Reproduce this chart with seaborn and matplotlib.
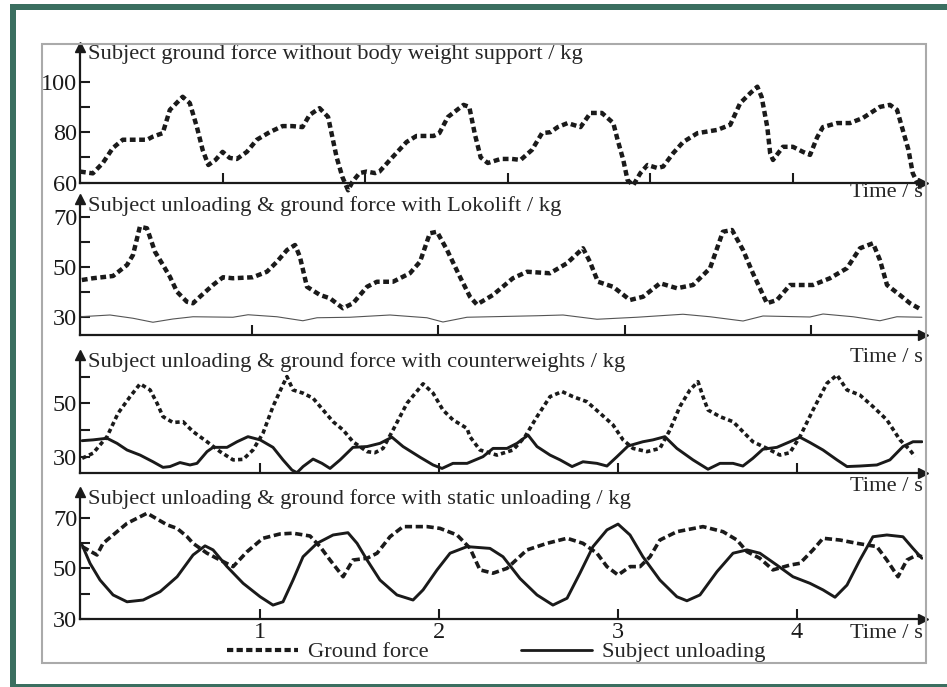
import matplotlib
matplotlib.use('Agg')
import matplotlib.pyplot as plt
import seaborn as sns
from matplotlib.lines import Line2D
from matplotlib.patches import Rectangle

# panel 1: ground force without body weight support
t1 = [0.00, 0.09, 0.16, 0.23, 0.30, 0.37, 0.47, 0.51, 0.58, 0.63, 0.72, 0.77, 0.82, 0.86, 0.90,
      0.95, 1.00, 1.05, 1.10, 1.17, 1.24, 1.33, 1.42, 1.49, 1.56, 1.61, 1.68, 1.74, 1.77, 1.80,
      1.84, 1.88, 1.91, 1.96, 2.01, 2.07, 2.10, 2.19, 2.29, 2.36, 2.48, 2.52, 2.58, 2.69, 2.73,
      2.77, 2.81, 2.86, 2.95, 3.03, 3.09, 3.17, 3.24, 3.30, 3.35, 3.42, 3.51, 3.58, 3.66, 3.74,
      3.77, 3.81, 3.84, 3.88, 3.93, 3.98, 4.05, 4.09, 4.16, 4.23, 4.33, 4.47, 4.56, 4.63, 4.70,
      4.75, 4.78, 4.82, 4.84, 4.86, 4.93, 5.00, 5.07, 5.12, 5.17, 5.21, 5.31, 5.40, 5.49, 5.61,
      5.68, 5.73, 5.77, 5.81, 5.84, 5.88]
gf1 = [64.4, 63.7, 67.8, 73.7, 77.0, 77.0, 77.0, 78.2, 79.6, 88.8, 94.0, 91.5, 82.0, 73.0, 67.0,
       69.0, 72.2, 69.8, 69.4, 72.2, 77.0, 80.0, 82.4, 82.4, 82.0, 86.8, 89.5, 86.0, 78.0, 70.0,
       62.3, 57.0, 60.3, 63.8, 64.4, 63.8, 64.4, 70.0, 76.1, 78.5, 78.5, 79.6, 86.0, 90.8, 90.0,
       79.0, 70.0, 67.8, 69.4, 69.4, 69.0, 73.0, 79.6, 80.0, 82.0, 83.6, 82.0, 87.6, 87.6, 83.6,
       77.0, 69.0, 61.0, 59.0, 63.8, 67.0, 65.8, 66.4, 71.7, 76.1, 79.6, 80.9, 82.9, 91.5, 95.4,
       98.0, 94.0, 82.0, 71.7, 69.0, 74.2, 74.2, 72.2, 71.0, 78.0, 82.0, 83.6, 83.6, 85.6, 90.0,
       90.8, 88.8, 80.9, 73.0, 63.8, 59.0]

# panel 2: Lokolift
t2 = [0.088, 0.147, 0.255, 0.330, 0.362, 0.399, 0.437, 0.480, 0.523, 0.560, 0.598, 0.651, 0.684,
      0.721, 0.791, 0.845, 0.898, 1.005, 1.080, 1.134, 1.188, 1.231, 1.257, 1.295, 1.365, 1.418,
      1.488, 1.542, 1.617, 1.670, 1.756, 1.847, 1.901, 1.954, 1.992, 2.046, 2.115, 2.169, 2.206,
      2.292, 2.399, 2.475, 2.598, 2.689, 2.775, 2.812, 2.855, 2.936, 3.027, 3.097, 3.188, 3.279,
      3.365, 3.456, 3.525, 3.574, 3.633, 3.686, 3.761, 3.815, 3.885, 3.954, 4.008, 4.099, 4.190,
      4.260, 4.330, 4.367, 4.405, 4.474, 4.528, 4.592]
gf2 = [44.8, 45.5, 46.4, 50.8, 54.8, 66.1, 65.5, 56.1, 50.8, 46.1, 40.1, 36.1, 35.5,
       38.1, 42.8, 45.9, 45.5, 45.9, 48.1, 52.1, 56.8, 58.8, 54.1, 42.1, 38.8, 37.5,
       33.5, 35.5, 42.1, 44.1, 44.1, 47.5, 52.1, 63.5, 64.1, 56.8, 46.1, 38.1, 35.0,
       38.8, 45.5, 48.1, 47.5, 51.5, 57.5, 52.1, 44.1, 42.1, 36.8, 38.1, 43.5, 41.5,
       42.8, 49.5, 64.1, 64.8, 56.8, 47.5, 35.5, 36.8, 42.8, 42.8, 42.8, 45.5, 49.5,
       57.5, 59.5, 52.8, 42.8, 38.8, 35.5, 32.8]
tu2 = [0.078, 0.239, 0.362, 0.469, 0.576, 0.684, 0.898, 0.979, 1.134, 1.273, 1.349, 1.525, 1.740,
       1.938, 2.024, 2.153, 2.528, 2.668, 2.850, 3.064, 3.311, 3.456, 3.633, 3.740, 3.992, 4.062,
       4.223, 4.367, 4.458, 4.592]
unl2 = [30.1, 30.8, 29.5, 27.9, 29.2, 30.1, 29.9, 30.9, 30.1, 28.5, 29.7, 29.9, 30.8,
        29.7, 28.0, 29.9, 30.5, 30.8, 29.1, 29.9, 31.1, 30.1, 28.4, 30.4, 30.0, 31.2,
        30.1, 28.5, 30.1, 29.9]

# panel 3: counterweights
t3 = [0.006, 0.067, 0.145, 0.207, 0.274, 0.330, 0.386, 0.425, 0.458, 0.514, 0.570, 0.626, 0.704,
      0.777, 0.850, 0.906, 0.961, 1.017, 1.073, 1.124, 1.151, 1.185, 1.241, 1.297, 1.353, 1.409,
      1.465, 1.520, 1.599, 1.643, 1.688, 1.744, 1.822, 1.912, 1.968, 2.023, 2.079, 2.158, 2.174,
      2.230, 2.325, 2.415, 2.482, 2.549, 2.622, 2.689, 2.750, 2.828, 2.901, 2.974, 3.030, 3.086,
      3.164, 3.236, 3.292, 3.348, 3.404, 3.449, 3.477, 3.505, 3.572, 3.645, 3.700, 3.756, 3.835,
      3.907, 3.963, 4.019, 4.092, 4.170, 4.226, 4.282, 4.354, 4.427, 4.505, 4.578, 4.634, 4.662]
gf3 = [29.4, 31.3, 37.5, 46.3, 52.5, 57.3, 55.0, 50.0, 45.0, 42.8, 43.1, 39.4, 35.6,
       31.9, 28.8, 29.0, 32.5, 38.8, 48.8, 56.3, 60.0, 55.0, 53.8, 51.9, 47.5, 43.1,
       40.0, 35.6, 31.9, 31.5, 33.1, 40.0, 50.0, 57.3, 53.8, 47.5, 43.8, 40.6, 37.5,
       32.5, 30.6, 32.5, 37.5, 45.0, 52.5, 54.4, 52.5, 50.6, 46.3, 41.9, 36.3, 33.1,
       31.9, 33.1, 40.0, 48.8, 55.0, 58.1, 52.5, 47.5, 45.0, 43.1, 39.4, 35.6, 33.1,
       30.6, 31.5, 37.5, 47.5, 57.5, 60.6, 55.0, 53.1, 48.8, 43.8, 36.3, 32.5, 30.0]
tu3 = [0.006, 0.067, 0.145, 0.201, 0.257, 0.330, 0.402, 0.458, 0.497, 0.553, 0.609, 0.648, 0.704,
       0.738, 0.816, 0.872, 0.933, 1.001, 1.073, 1.129, 1.179, 1.207, 1.241, 1.297, 1.347, 1.392,
       1.448, 1.520, 1.599, 1.671, 1.738, 1.800, 1.895, 1.968, 2.018, 2.079, 2.158, 2.247, 2.303,
       2.381, 2.437, 2.499, 2.549, 2.622, 2.678, 2.745, 2.806, 2.884, 2.940, 2.996, 3.058, 3.141,
       3.197, 3.264, 3.331, 3.421, 3.505, 3.572, 3.645, 3.700, 3.756, 3.812, 3.890, 3.963, 4.019,
       4.075, 4.148, 4.226, 4.282, 4.354, 4.449, 4.522, 4.595, 4.651, 4.701]
unl3 = [36.0, 36.3, 36.9, 35.0, 32.5, 30.6, 28.1, 26.0, 26.3, 27.8, 26.9, 27.5, 31.9,
        33.5, 33.5, 35.6, 37.5, 36.3, 33.5, 28.8, 25.0, 24.0, 26.3, 29.1, 27.5, 25.6,
        28.8, 33.5, 33.8, 35.0, 37.3, 33.8, 29.8, 26.9, 25.6, 27.5, 27.5, 30.0, 33.1,
        33.1, 35.0, 38.1, 33.8, 30.6, 28.8, 26.3, 28.1, 27.5, 26.5, 30.0, 34.0, 35.6,
        36.3, 37.5, 33.1, 28.8, 25.3, 27.5, 27.5, 26.5, 29.4, 32.8, 33.5, 35.6, 37.3,
        35.3, 32.5, 28.8, 26.3, 26.5, 26.9, 28.8, 33.8, 35.6, 35.6]

# panel 4: static unloading
t4 = [0.006, 0.089, 0.123, 0.257, 0.369, 0.481, 0.537, 0.593, 0.626, 0.704, 0.777, 0.850, 0.928,
      1.017, 1.112, 1.185, 1.280, 1.336, 1.392, 1.465, 1.520, 1.599, 1.655, 1.727, 1.800, 1.934,
      2.007, 2.102, 2.174, 2.230, 2.303, 2.381, 2.493, 2.605, 2.717, 2.806, 2.884, 2.940, 3.002,
      3.069, 3.125, 3.181, 3.236, 3.331, 3.477, 3.589, 3.667, 3.723, 3.795, 3.868, 3.963, 4.019,
      4.092, 4.148, 4.243, 4.338, 4.449, 4.505, 4.567, 4.617, 4.673, 4.701]
gf4 = [58.6, 55.3, 59.9, 67.8, 71.8, 67.2, 65.8, 62.5, 59.9, 56.0, 53.3, 50.7, 56.6,
       61.9, 63.6, 63.9, 62.8, 58.6, 53.3, 46.7, 53.3, 54.0, 56.0, 62.5, 66.5, 66.5,
       65.8, 63.2, 58.0, 49.4, 48.1, 50.0, 57.3, 59.9, 61.9, 59.9, 56.0, 50.7, 47.4,
       50.7, 50.7, 54.6, 61.2, 64.5, 66.5, 64.5, 61.2, 56.6, 54.0, 49.4, 51.3, 52.0,
       57.3, 61.9, 61.2, 59.9, 58.6, 53.3, 46.7, 53.3, 55.3, 54.6]
tu4 = [0.006, 0.050, 0.106, 0.179, 0.257, 0.347, 0.442, 0.537, 0.626, 0.693, 0.738, 0.816, 0.906,
       1.001, 1.073, 1.129, 1.185, 1.241, 1.319, 1.409, 1.492, 1.543, 1.599, 1.671, 1.766, 1.856,
       1.912, 1.990, 2.063, 2.158, 2.286, 2.359, 2.454, 2.549, 2.638, 2.717, 2.789, 2.862, 2.940,
       3.002, 3.069, 3.141, 3.236, 3.331, 3.387, 3.460, 3.555, 3.645, 3.723, 3.795, 3.890, 3.980,
       4.075, 4.148, 4.215, 4.282, 4.354, 4.427, 4.505, 4.595, 4.651, 4.701]
unl4 = [59.2, 52.0, 45.4, 39.5, 36.8, 37.5, 40.8, 46.7, 55.3, 58.9, 57.3, 50.7, 44.1,
        38.8, 35.5, 36.8, 45.4, 54.6, 59.9, 63.2, 64.1, 59.9, 53.3, 45.4, 39.5, 37.5,
        41.5, 49.4, 56.0, 58.6, 57.9, 54.6, 46.0, 39.5, 35.5, 38.2, 48.1, 58.6, 65.2,
        67.5, 63.2, 54.6, 45.4, 38.8, 37.2, 39.5, 48.7, 56.0, 57.3, 56.0, 51.3, 46.7,
        44.1, 41.5, 38.6, 43.4, 53.3, 62.5, 63.2, 62.5, 57.9, 54.0]

titles = ['Subject ground force without body weight support / kg',
          'Subject unloading & ground force with Lokolift / kg',
          'Subject unloading & ground force with counterweights / kg',
          'Subject unloading & ground force with static unloading / kg']

sns.set_theme(style='ticks')
plt.rcParams['font.family'] = ['Liberation Serif', 'DejaVu Serif']

W, H = 947, 687
fig = plt.figure(figsize=(W / 100, H / 100), dpi=100)
fig.patch.set_facecolor('white')


def box(x0, y0, x1, y1):
    # pixel box (top-left origin) -> figure fraction rect
    return [x0 / W, 1 - y1 / H, (x1 - x0) / W, (y1 - y0) / H]


# outer teal frame and inner grey frame
teal = '#3b6f60'
for r in [box(10, 4, 16, 687), box(10, 4, W, 10), box(10, 684, W, 687)]:
    fig.add_artist(Rectangle((r[0], r[1]), r[2], r[3], transform=fig.transFigure,
                             facecolor=teal, edgecolor='none'))
g = box(42, 44, 926, 663)
fig.add_artist(Rectangle((g[0], g[1]), g[2], g[3], transform=fig.transFigure,
                         facecolor='none', edgecolor='#aaaaaa', lw=1.5))

panels = [(47, 182.7), (199, 335), (355, 472.7), (491.7, 619)]
axes = [fig.add_axes(box(80, top, 923, bot)) for top, bot in panels]
ax1, ax2, ax3, ax4 = axes

dots = (0, (1.3, 0.8))
sns.lineplot(x=t1, y=gf1, ax=ax1, color='k', lw=3.2, linestyle=dots, sort=False,
             estimator=None, clip_on=False)
sns.lineplot(x=t2, y=gf2, ax=ax2, color='k', lw=3.2, linestyle=dots, sort=False, estimator=None)
sns.lineplot(x=tu2, y=unl2, ax=ax2, color='#555555', lw=0.8, sort=False, estimator=None)
sns.lineplot(x=t3, y=gf3, ax=ax3, color='k', lw=2.6, linestyle=(0, (1.2, 0.9)), sort=False,
             estimator=None)
sns.lineplot(x=tu3, y=unl3, ax=ax3, color='k', lw=2.1, sort=False, estimator=None)
sns.lineplot(x=t4, y=gf4, ax=ax4, color='k', lw=2.6, linestyle=(0, (2.0, 1.0)), sort=False,
             estimator=None)
sns.lineplot(x=tu4, y=unl4, ax=ax4, color='k', lw=2.1, sort=False, estimator=None)

ax1.set_xlim(0, 5.912)
ax1.set_ylim(60, 113.7)
ax1.set_xticks([1, 2, 3, 4, 5], labels=[])
ax1.set_yticks([60, 70, 80, 90, 100], labels=['60', '', '80', '', '100'])

ax2.set_xlim(0.078, 4.598)
ax2.set_ylim(22.8, 77.2)
ax2.set_xticks([1, 2, 3, 4], labels=[])
ax2.set_yticks([30, 40, 50, 60, 70], labels=['30', '', '50', '', '70'])

ax3.set_xlim(-0.006, 4.707)
ax3.set_ylim(24.0, 68.1)
ax3.set_xticks([1, 2, 3, 4], labels=[])
ax3.set_yticks([30, 40, 50, 60], labels=['30', '', '50', ''])

ax4.set_xlim(-0.006, 4.707)
ax4.set_ylim(30, 80.3)
ax4.set_xticks([1, 2, 3, 4], labels=['1', '2', '3', '4'])
ax4.set_yticks([30, 40, 50, 60, 70], labels=['30', '', '50', '', '70'])

time_offsets = [10, 23, 14, 15]
for ax, title, dy in zip(axes, titles, time_offsets):
    ax.set_facecolor('none')
    ax.set_xlabel('')
    ax.set_ylabel('')
    sns.despine(ax=ax)
    for s in ['left', 'bottom']:
        ax.spines[s].set_color('k')
        ax.spines[s].set_linewidth(1.6)
    ax.tick_params(direction='in', length=7, width=1.5, colors='k', labelsize=17.5, pad=2)
    ax.plot(0, 1, marker='^', color='k', ms=7.5, transform=ax.transAxes, clip_on=False)
    ax.plot(1, 0, marker='>', color='k', ms=7.5, transform=ax.transAxes, clip_on=False)
    ax.annotate(title, xy=(0, 1), xycoords='axes fraction', xytext=(8, -7),
                textcoords='offset pixels', ha='left', va='center', fontsize=16.2)
    ax.annotate('Time / s', xy=(1, 0), xycoords='axes fraction', xytext=(0, -dy),
                textcoords='offset pixels', ha='right', va='center', fontsize=16.2)

handles = [Line2D([], [], color='k', lw=3, linestyle=(0, (1.5, 0.8))),
           Line2D([], [], color='k', lw=2)]
fig.legend(handles, ['Ground force', 'Subject unloading'], ncol=2, frameon=False, fontsize=16.2,
           handlelength=3.15, handletextpad=0.45, columnspacing=4.1, loc='center',
           bbox_to_anchor=(496 / W, 1 - 652 / H))

fig.savefig('out.png', dpi=100)
